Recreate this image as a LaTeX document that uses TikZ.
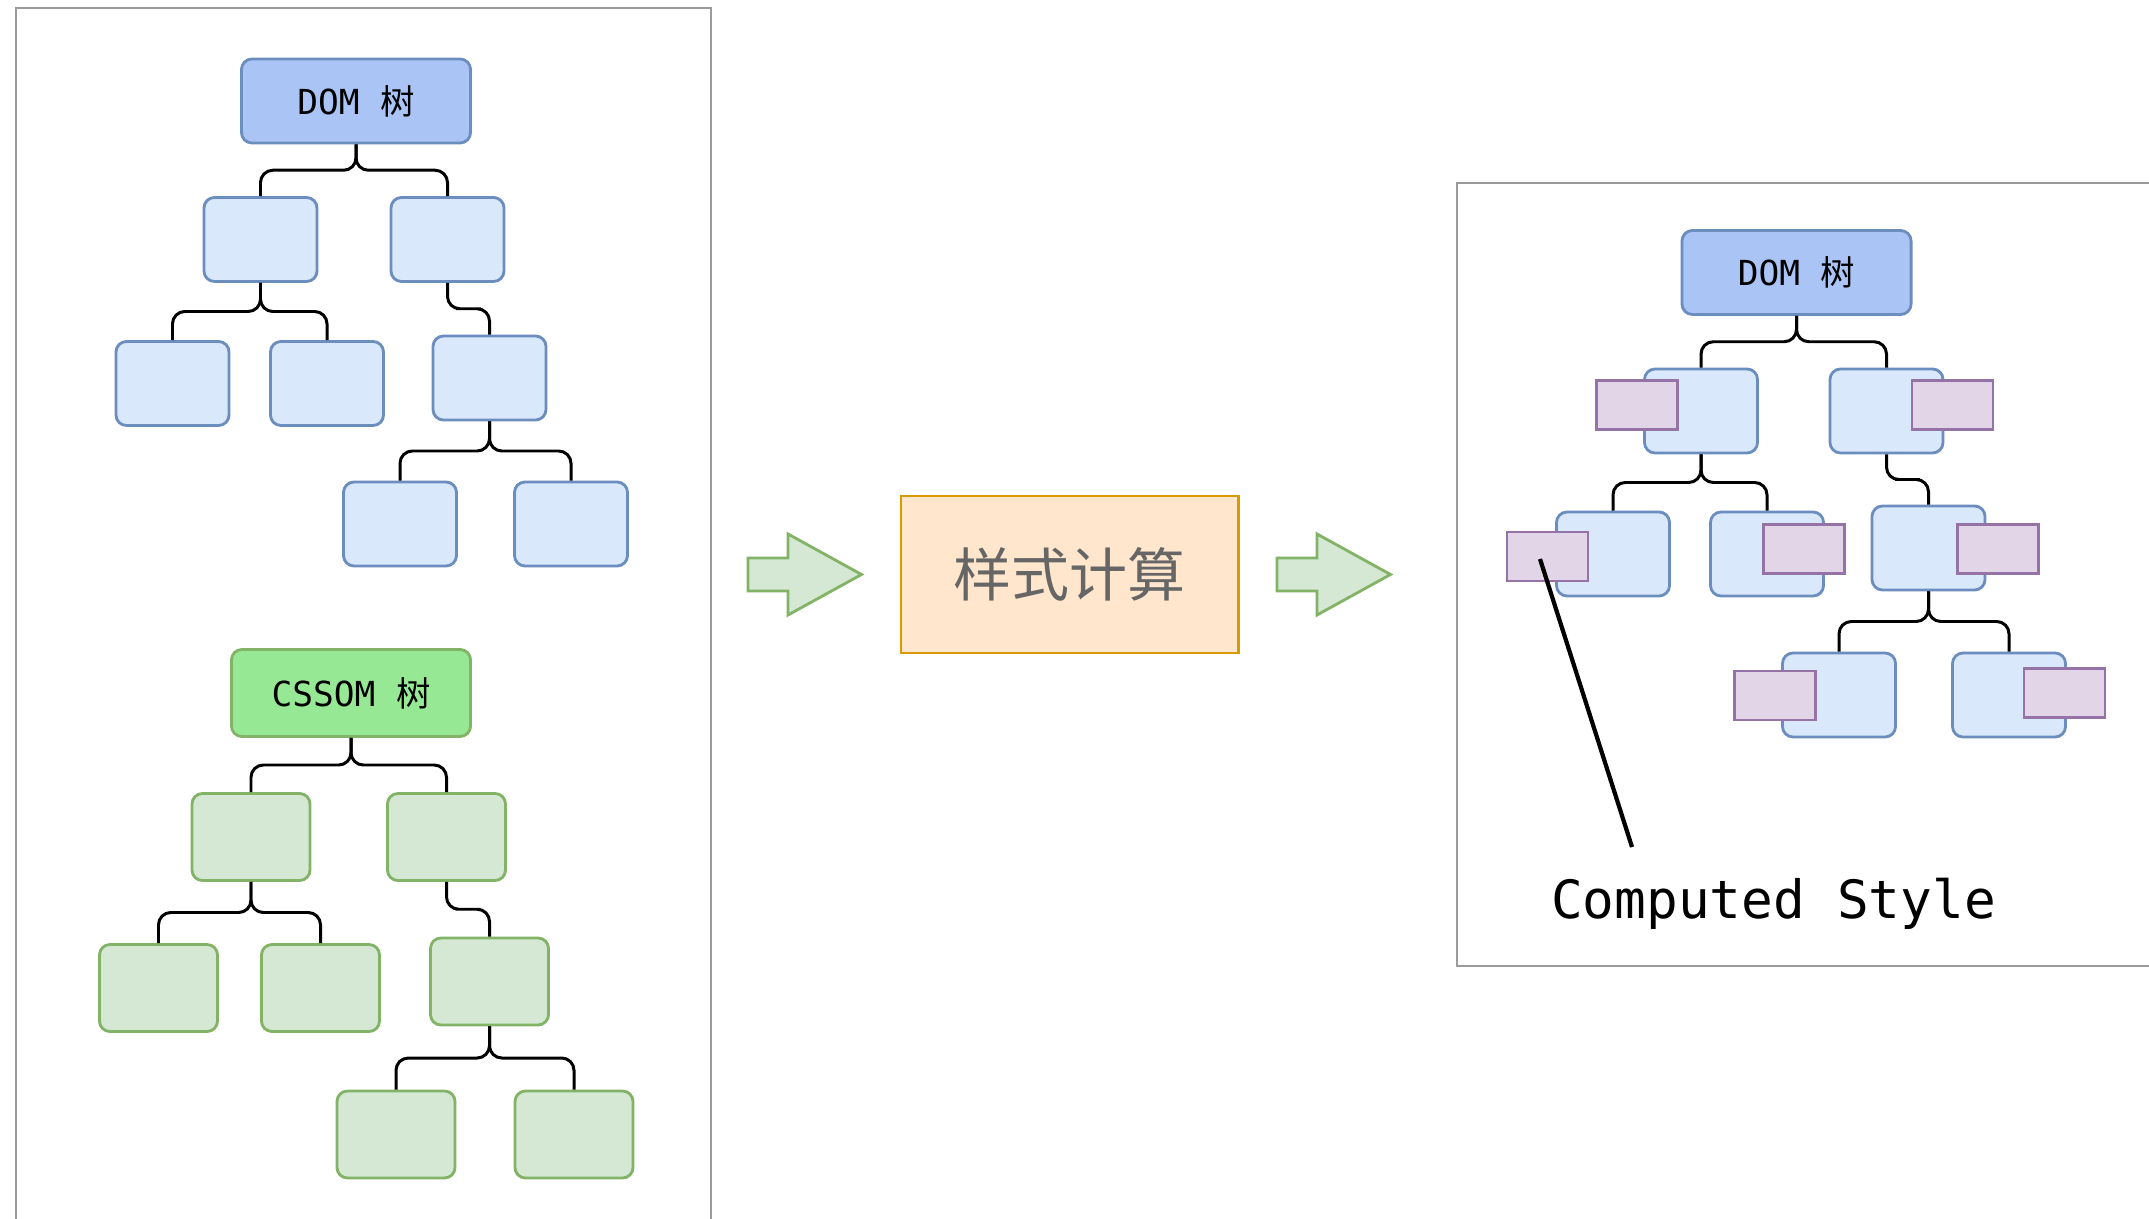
\documentclass[tikz,border=0pt]{standalone}
\usepackage{fontspec}
\setmonofont{DejaVu Sans Mono}
\newfontfamily\cjk{Noto Sans CJK SC}
\usepackage{xcolor}
\usetikzlibrary{calc}

\definecolor{domfill}{HTML}{A9C4F5}
\definecolor{blueline}{HTML}{6C8EBF}
\definecolor{bluefill}{HTML}{DAE8FC}
\definecolor{cssfill}{HTML}{97E894}
\definecolor{greenline}{HTML}{82B366}
\definecolor{greenfill}{HTML}{D5E8D4}
\definecolor{purpleline}{HTML}{9673A6}
\definecolor{purplefill}{HTML}{E1D5E7}
\definecolor{orangeline}{HTML}{D79B00}
\definecolor{orangefill}{HTML}{FFE6CC}
\definecolor{panelline}{HTML}{9B9B9B}
\definecolor{calctext}{HTML}{666666}

\begin{document}
\begin{tikzpicture}[x=0.01cm, y=-0.01cm,
  box/.style={draw=blueline, fill=bluefill, rounded corners=3pt, line width=0.8pt,
    minimum width=1.13cm, minimum height=0.84cm, inner sep=0pt},
  gbox/.style={draw=greenline, fill=greenfill, rounded corners=3pt, line width=0.8pt,
    minimum width=1.18cm, minimum height=0.87cm, inner sep=0pt},
  treename/.style={font=\ttfamily\fontsize{9.8pt}{12pt}\selectfont},
  rootbox/.style={box, fill=domfill, minimum width=2.29cm, treename},
  cssroot/.style={gbox, fill=cssfill, minimum width=2.39cm, treename},
  tag/.style={draw=purpleline, fill=purplefill, line width=0.8pt,
    minimum width=0.81cm, minimum height=0.49cm, inner sep=0pt},
  link/.style={line width=0.85pt, rounded corners=3.5pt},
  panel/.style={draw=panelline, line width=0.8pt},
  blockarrow/.style={draw=greenline, fill=greenfill, line width=0.8pt}]

  \useasboundingbox (0,0) rectangle (2149,1219);
  \clip (0,0) rectangle (2149,1219);

  % panels
  \draw[panel] (16,8) rectangle (711,1240);
  \draw[panel] (1457,183) rectangle (2170,966);

  % DOM tree
  \node[rootbox] (dom) at (356,101) {DOM {\cjk 树}};
  \node[box] (d1) at (260.5,239.5) {};
  \node[box] (d2) at (447.5,239.5) {};
  \node[box] (d11) at (172.5,383.5) {};
  \node[box] (d12) at (327,383.5) {};
  \node[box] (d21) at (489.5,378) {};
  \node[box] (d211) at (400,524) {};
  \node[box] (d212) at (571,524) {};

  % CSSOM tree
  \node[cssroot] (css) at (351,693) {CSSOM {\cjk 树}};
  \node[gbox] (c1) at (251,837) {};
  \node[gbox] (c2) at (446.5,837) {};
  \node[gbox] (c11) at (158.5,988) {};
  \node[gbox] (c12) at (320.5,988) {};
  \node[gbox] (c21) at (489.5,981.5) {};
  \node[gbox] (c211) at (396,1134.5) {};
  \node[gbox] (c212) at (574,1134.5) {};

  % style computation in the middle
  \node[draw=orangeline, fill=orangefill, line width=0.8pt,
    minimum width=3.37cm, minimum height=1.57cm, text=calctext,
    font=\cjk\fontsize{16.5pt}{20pt}\selectfont] (calc) at (1069.5,574.5) {样式计算};
  \coordinate (in) at (748,574.5);
  \coordinate (out) at (1277,574.5);
  \foreach \a in {in,out}
    \draw[blockarrow] (\a) ++(0,-16.5) -- ++(40,0) -- ++(0,-24) -- ++(73.5,40.5)
      -- ++(-73.5,40.5) -- ++(0,-24) -- ++(-40,0) -- cycle;

  % DOM tree with computed styles
  \node[rootbox] (rdom) at (1796.5,272.5) {DOM {\cjk 树}};
  \node[box] (r1) at (1701,411) {};
  \node[box] (r2) at (1886.5,411) {};
  \node[box] (r11) at (1613,554) {};
  \node[box] (r12) at (1767,554) {};
  \node[box] (r21) at (1928.5,548) {};
  \node[box] (r211) at (1839,695) {};
  \node[box] (r212) at (2009,695) {};

  \node[tag] (s1) at (1637,405) {};
  \node[tag] (s2) at (1952.5,405) {};
  \node[tag] (s11) at (1547.5,556.5) {};
  \node[tag] (s12) at (1804,549) {};
  \node[tag] (s21) at (1998,549) {};
  \node[tag] (s211) at (1775,695.5) {};
  \node[tag] (s212) at (2064.5,693) {};

  % parent -> child links
  \foreach \p/\c in {dom/d1, dom/d2, d1/d11, d1/d12, d2/d21, d21/d211, d21/d212,
                     css/c1, css/c2, c1/c11, c1/c12, c2/c21, c21/c211, c21/c212,
                     rdom/r1, rdom/r2, r1/r11, r1/r12, r2/r21, r21/r211, r21/r212}
    \draw[link] (\p.south) |- ($(\p.south)!0.5!(\c.north)$) -| (\c.north);

  % label for the attached styles
  \node[anchor=base, font=\ttfamily\fontsize{15pt}{18pt}\selectfont] (cs) at (1773.5,918) {Computed Style};
  \coordinate (tip) at (1632,847);
  \draw[line width=1.2pt] ([xshift=-0.075cm,yshift=-0.025cm]s11.center) -- (tip);

\end{tikzpicture}
\end{document}
